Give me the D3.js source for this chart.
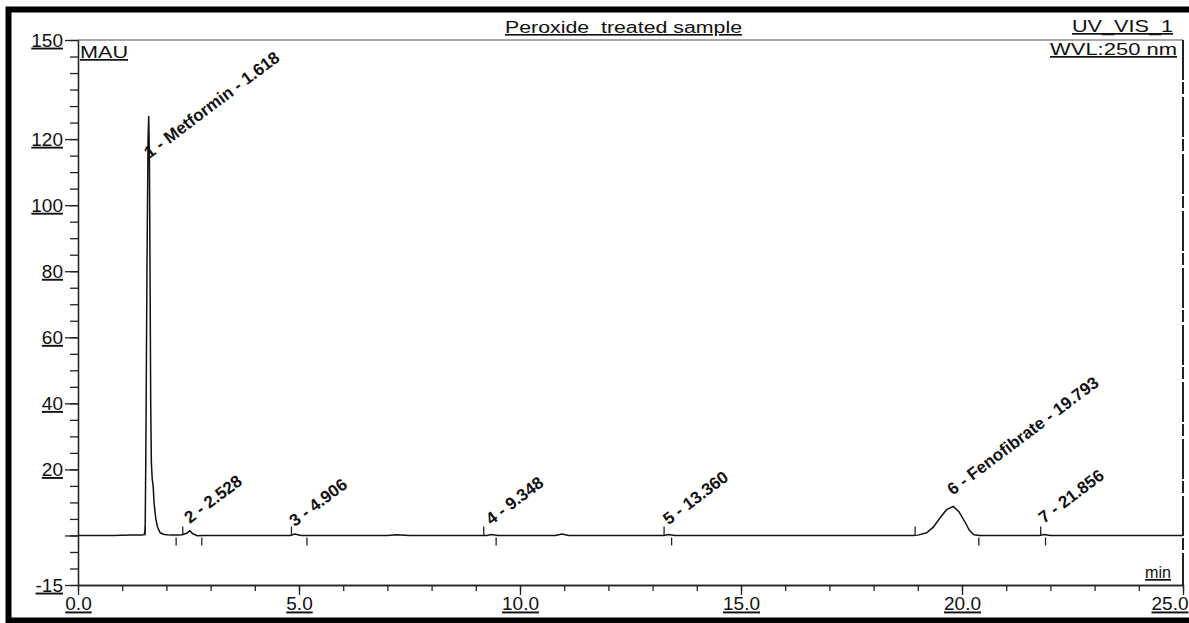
<!DOCTYPE html>
<html>
<head>
<meta charset="utf-8">
<script src="https://cdn.jsdelivr.net/npm/d3@7/dist/d3.min.js"></script>
<style>
  body { margin: 0; background: #fff; }
  text { font-family: 'Liberation Sans', Arial, sans-serif; }
</style>
</head>
<body>
<div id="chart"></div>
<script>
// chromatogram trace (min, mAU)
var traceTime = [0.0, 0.8, 1.2, 1.45, 1.50, 1.52, 1.535, 1.56, 1.585, 1.60, 1.615, 1.63, 1.645, 1.66, 1.68, 1.70, 1.72, 1.76, 1.80, 1.86, 1.95, 2.10, 2.30, 2.45, 2.528, 2.60, 2.70, 2.85, 4.80, 4.906, 5.05, 7.0, 7.2, 7.5, 9.25, 9.348, 9.5, 10.8, 10.95, 11.1, 13.25, 13.36, 13.5, 18.9, 19.0, 19.2, 19.35, 19.5, 19.65, 19.8, 19.93, 20.07, 20.17, 20.27, 20.4, 21.75, 21.856, 22.0, 25.0];
var traceMau = [0, 0, 0.1, 0.1, 0.3, 2, 25, 80, 120, 127, 115, 80, 40, 22, 17, 15, 10, 5, 2.5, 0.8, 0.3, 0.1, 0.1, 0.6, 1.4, 0.5, -0.1, 0, 0, 0.4, 0, 0, 0.2, 0, 0, 0.3, 0, 0, 0.4, 0, 0, 0.3, 0, 0, 0.1, 0.8, 2.5, 5.3, 7.8, 8.8, 7.2, 4, 1.5, 0.2, 0, 0, 0.3, 0, 0];

// peaks
var peakLabels = ['1 - Metformin - 1.618', '2 - 2.528', '3 - 4.906', '4 - 9.348', '5 - 13.360', '6 - Fenofibrate - 19.793', '7 - 21.856'];
var peakTimes = [1.618, 2.528, 4.906, 9.348, 13.360, 19.793, 21.856];
var labelMau = [114, 3.5, 2.5, 3, 3, 12, 3.5];
var startTimes = [1.52, 2.37, 4.83, 9.18, 13.26, 18.94, 21.78];
var endTimes = [2.22, 2.80, 5.18, 9.46, 13.43, 20.38, 21.89];

// axis ticks
var xTickValues = [0, 5, 10, 15, 20, 25];
var yTickLabels = [150, 120, 100, 80, 60, 40, 20, -15];

var chart_width = 1189;
var chart_height = 623;

// create svg element
var svg = d3.select('#chart')
  .append('svg')
  .attr('width', chart_width)
  .attr('height', chart_height);

// outer border
svg.append('rect')
  .attr('x', 8.5)
  .attr('y', 9.5)
  .attr('width', 1200)
  .attr('height', 611)
  .attr('fill', 'none')
  .attr('stroke', '#000')
  .attr('stroke-width', 6);

// create scales
var x_scale = d3.scaleLinear()
  .domain([0, 25])
  .range([78, 1183]);

var y_scale = d3.scaleLinear()
  .domain([-15, 150])
  .range([585, 40]);

// frame lines
svg.append('line')
  .attr('x1', x_scale(0)).attr('x2', x_scale(25))
  .attr('y1', y_scale(150)).attr('y2', y_scale(150))
  .attr('stroke', '#555').attr('stroke-width', 1.2);

svg.append('line')
  .attr('x1', x_scale(25)).attr('x2', x_scale(25))
  .attr('y1', y_scale(150)).attr('y2', y_scale(-15))
  .attr('stroke', '#222').attr('stroke-width', 2)
  .attr('stroke-dasharray', '40,2,12,3');

// x axis
var x_minor = d3.axisBottom(x_scale)
  .tickValues(d3.range(0, 26, 1))
  .tickSize(6)
  .tickSizeOuter(0)
  .tickFormat('');

var x_major = d3.axisBottom(x_scale)
  .tickValues(xTickValues)
  .tickSize(10)
  .tickSizeOuter(0)
  .tickPadding(2)
  .tickFormat(d3.format('.1f'));

svg.append('g')
  .attr('transform', 'translate(0,' + y_scale(-15) + ')')
  .call(x_minor)
  .attr('class', 'axis');

svg.append('g')
  .attr('transform', 'translate(0,' + y_scale(-15) + ')')
  .call(x_major)
  .attr('class', 'axis')
  .attr('id', 'x_axis');

// last label sits against the page edge
svg.select('#x_axis').selectAll('.tick text')
  .filter((d) => d === 25)
  .attr('text-anchor', 'end')
  .attr('x', 5);

// y axis
var y_minor = d3.axisLeft(y_scale)
  .tickValues(d3.range(-15, 151, 5))
  .tickSize(8)
  .tickSizeOuter(0)
  .tickFormat('');

var y_major = d3.axisLeft(y_scale)
  .tickValues(yTickLabels.concat([0]))
  .tickSize(13)
  .tickSizeOuter(0)
  .tickPadding(2)
  .tickFormat((d) => d === 0 ? '' : d);

svg.append('g')
  .attr('transform', 'translate(' + x_scale(0) + ',0)')
  .call(y_minor)
  .attr('class', 'axis');

svg.append('g')
  .attr('transform', 'translate(' + x_scale(0) + ',0)')
  .call(y_major)
  .attr('class', 'axis')
  .attr('id', 'y_axis');

svg.selectAll('.axis path').attr('stroke', '#222').attr('stroke-width', 1.3);
svg.selectAll('.axis line').attr('stroke', '#222').attr('stroke-width', 1.3);
svg.selectAll('.axis text')
  .attr('font-family', "'Liberation Sans', Arial, sans-serif")
  .attr('font-size', 19)
  .attr('fill', '#111')
  .style('text-decoration', 'underline');

// trace
var line = d3.line()
  .x((d, i) => x_scale(d))
  .y((d, i) => y_scale(traceMau[i]));

svg.append('path')
  .datum(traceTime)
  .attr('d', line)
  .attr('fill', 'none')
  .attr('stroke', '#111')
  .attr('stroke-width', 1.5);

// peak start / end markers
svg.selectAll('.start')
  .data(startTimes)
  .enter()
  .append('line')
  .attr('x1', (d) => x_scale(d)).attr('x2', (d) => x_scale(d))
  .attr('y1', y_scale(0)).attr('y2', y_scale(0) - 9)
  .attr('stroke', '#222').attr('stroke-width', 1.3);

svg.selectAll('.end')
  .data(endTimes)
  .enter()
  .append('line')
  .attr('x1', (d) => x_scale(d)).attr('x2', (d) => x_scale(d))
  .attr('y1', y_scale(0) + 2).attr('y2', y_scale(0) + 10)
  .attr('stroke', '#222').attr('stroke-width', 1.3);

// peak labels
svg.selectAll('.peak-label')
  .data(peakLabels)
  .enter()
  .append('text')
  .attr('class', 'peak-label')
  .attr('transform', (d, i) => 'translate(' + x_scale(peakTimes[i]) + ',' + y_scale(labelMau[i]) + ') rotate(-37)')
  .attr('font-size', 17)
  .attr('font-weight', 'bold')
  .attr('fill', '#111')
  .text((d) => d);

// header texts
function header(txt, x, y, size, len, anchor) {
  svg.append('text')
    .attr('x', x)
    .attr('y', y)
    .attr('font-size', size)
    .attr('text-anchor', anchor)
    .attr('textLength', len)
    .attr('lengthAdjust', 'spacingAndGlyphs')
    .attr('fill', '#111')
    .style('text-decoration', 'underline')
    .text(txt);
}

header('Peroxide\u00a0 treated sample', 505, 33, 16, 237, 'start');
header('UV_VIS_1', 1072, 32, 17, 101, 'start');
header('WVL:250 nm', 1050, 55, 17, 127, 'start');
header('MAU', 80, 58, 17, 48, 'start');
header('min', 1145, 578, 17, 26, 'start');
</script>
</body>
</html>
